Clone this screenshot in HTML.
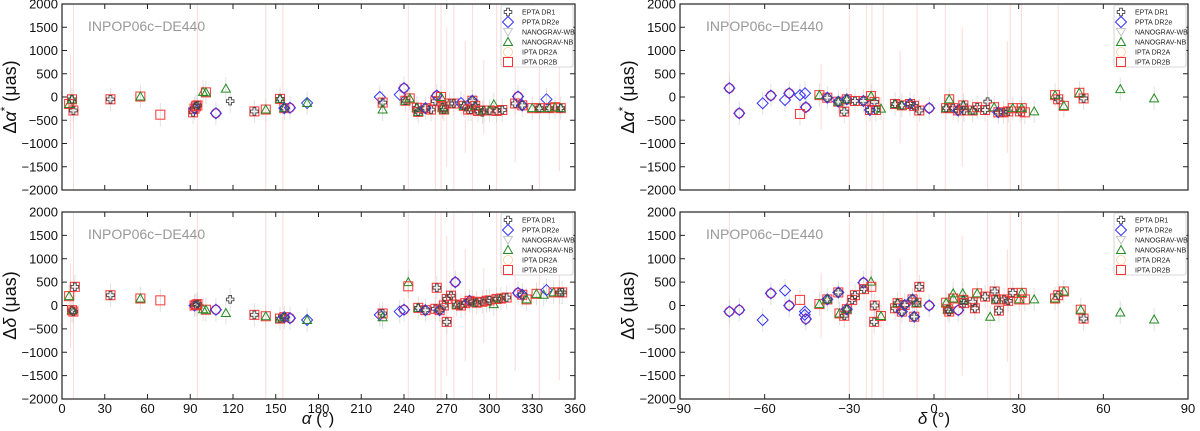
<!DOCTYPE html>
<html><head><meta charset="utf-8"><style>
body{margin:0;background:#fff;}
svg{display:block;font-family:"Liberation Sans","DejaVu Sans",sans-serif;}
</style></head><body>
<svg id="c" width="1200" height="431" viewBox="0 0 1200 431"></svg>
<script>
const alphaDRA = [[5,-150,"TS"],[7,-50,"CTS"],[8,-290,"CS"],[34,-50,"CS"],[55,10,"TS"],[69,-380,"S"],[92,-330,"CS"],[93,-250,"CDS"],[94,-200,"CS"],[95,-180,"CS"],[99,110,"T"],[101,100,"TS"],[108,-350,"DO"],[115,180,"T"],[118,-90,"C"],[135,-310,"CS"],[143,-270,"TS"],[153,-40,"CTS"],[156,-240,"CDTS"],[160,-230,"DO"],[172,-130,"TD"],[223,0,"D"],[225,-120,"CS"],[225,-270,"T"],[237,50,"D"],[240,190,"DO"],[241,-80,"CTS"],[244,-30,"TS"],[249,-230,"CTS"],[250,-320,"CTS"],[255,-240,"CDS"],[259,-270,"CS"],[262,-90,"CS"],[263,30,"DO"],[266,0,"TS"],[267,-220,"CTS"],[268,-270,"CTS"],[272,-140,"CS"],[275,-140,"CS"],[280,-130,"D"],[282,-190,"CTS"],[285,-270,"CS"],[287,-270,"CS"],[288,-80,"CDS"],[290,-190,"CTS"],[292,-300,"CS"],[295,-330,"C"],[296,-290,"CTS"],[300,-290,"CS"],[303,-160,"T"],[305,-300,"CS"],[309,-280,"CS"],[318,-140,"CS"],[320,10,"DO"],[323,-180,"CDS"],[330,-240,"TS"],[335,-240,"CTS"],[340,-50,"D"],[342,-240,"CTS"],[346,-220,"TS"],[350,-240,"CTS"]];
const alphaDDec = [[5,200,"TS"],[7,-100,"CTS"],[8,-130,"CS"],[9,400,"CS"],[34,220,"CS"],[55,150,"TS"],[69,110,"S"],[93,0,"CDS"],[94,10,"CS"],[95,30,"CS"],[99,-80,"T"],[101,-90,"TS"],[108,-90,"DO"],[115,-160,"T"],[118,130,"C"],[135,-200,"CS"],[143,-230,"TS"],[153,-280,"CTS"],[156,-250,"CDTS"],[160,-270,"DO"],[172,-310,"TD"],[223,-200,"D"],[225,-170,"CS"],[225,-250,"T"],[237,-130,"D"],[240,-90,"DO"],[243,500,"T"],[243,410,"S"],[250,-50,"CTS"],[255,-100,"CDS"],[262,-70,"CS"],[263,380,"CS"],[265,-100,"CDS"],[268,0,"CS"],[270,140,"CS"],[270,-350,"CS"],[273,210,"CS"],[276,500,"DO"],[277,20,"CTS"],[280,0,"CS"],[283,50,"CS"],[286,100,"CDS"],[288,80,"CS"],[291,60,"CTS"],[295,80,"CS"],[298,100,"CS"],[300,110,"CS"],[303,30,"T"],[305,140,"CS"],[308,150,"CTS"],[312,170,"CS"],[320,270,"DO"],[323,230,"CDS"],[326,130,"TS"],[333,250,"TS"],[338,230,"T"],[340,330,"D"],[345,280,"TS"],[349,280,"CTS"],[351,280,"CS"]];
const decDRA = [[-72.5,190,"DO"],[-69,-350,"DO"],[-60.7,-135,"D"],[-57.8,30,"DO"],[-52.8,-65,"D"],[-51.3,80,"DO"],[-47.5,40,"D"],[-45.7,80,"D"],[-45.4,-220,"DO"],[-47.5,-365,"S"],[-40.6,40,"TS"],[-37.8,-15,"CDS"],[-33.9,-100,"CDTS"],[-31.8,-315,"CS"],[-30.9,-50,"CDTS"],[-28,-85,"CS"],[-25,-85,"CDS"],[-22.3,20,"TS"],[-22.7,-280,"CDS"],[-21.1,-105,"CS"],[-20.6,-280,"CS"],[-18.8,-250,"T"],[-13.8,-150,"CTS"],[-11.4,-180,"CTS"],[-8.5,-150,"CDS"],[-7.1,-190,"CS"],[-5.2,-290,"CS"],[-1.7,-240,"DO"],[4.3,-240,"CTS"],[5.4,-50,"TS"],[6.8,-240,"CS"],[8.6,-290,"CDS"],[10.4,-180,"CTS"],[10.6,-290,"CS"],[13.7,-290,"CTS"],[15.3,-220,"CS"],[18.1,-280,"CS"],[19,-100,"C"],[21.3,-220,"TS"],[22.8,-330,"CDS"],[24.6,-330,"CS"],[26.3,-310,"CS"],[27.9,-240,"TS"],[30.5,-310,"CS"],[31.1,-240,"TS"],[32.2,-330,"S"],[35.5,-310,"T"],[42.9,40,"TS"],[44,-50,"CS"],[46,-190,"TS"],[51.5,90,"TS"],[53,-30,"CS"],[66,170,"T"],[78,-30,"T"]];
const decDDec = [[-72.5,-130,"DO"],[-69,-95,"DO"],[-60.7,-310,"D"],[-57.8,260,"DO"],[-52.8,320,"D"],[-51.3,0,"DO"],[-47.5,120,"S"],[-45.8,-200,"D"],[-45.7,-130,"D"],[-45.4,-290,"DO"],[-40.6,30,"TS"],[-37.8,130,"CDTS"],[-33.9,280,"CDS"],[-33.5,-170,"TS"],[-31.8,-220,"CS"],[-30.9,-80,"CDTS"],[-29,120,"CS"],[-28,220,"CS"],[-25,490,"DO"],[-24.8,350,"CS"],[-22.3,510,"T"],[-22.2,400,"S"],[-21,0,"CS"],[-21.2,-350,"CS"],[-18.8,-225,"TS"],[-13.8,-60,"CS"],[-12.9,50,"CTS"],[-11.4,-130,"CDS"],[-10.4,10,"CDS"],[-7.6,130,"CDS"],[-7,-240,"CDS"],[-6.2,60,"CTS"],[-5.2,400,"CS"],[-1.7,0,"DO"],[4.3,60,"TS"],[4.9,-80,"CTS"],[5.4,-130,"CS"],[6.8,260,"T"],[6.8,150,"TS"],[8.6,-100,"DO"],[10.2,260,"T"],[10.4,120,"CTS"],[10.6,50,"CS"],[13.7,80,"CS"],[14.5,-60,"CS"],[15.3,260,"TS"],[18.1,190,"CS"],[19.9,-240,"T"],[21.5,300,"CS"],[22,130,"CTS"],[23,-110,"CS"],[24.8,130,"CS"],[26.3,100,"CS"],[27.9,270,"CS"],[30.2,130,"TS"],[31.1,270,"TS"],[32.2,130,"S"],[35.5,130,"T"],[42.9,150,"TS"],[44,220,"CS"],[46,300,"TS"],[52,-90,"TS"],[53,-280,"CS"],[66,-150,"T"],[78,-300,"T"]];
const errAlpha = [[8,2000],[6,900],[95,2000],[143,2000],[155,2000],[243,2000],[262,2000],[266,2000],[270,1500],[275,2000],[283,1200],[288,2000],[296,800],[305,2000],[318,1400],[335,2000],[349,1600]];
const errDec = [[-72.5,2000],[-40,700],[-30,2000],[-24,2000],[-22,2000],[-18,2000],[-12,1000],[-6,2000],[4,2000],[10,1500],[19,2000],[27,2000],[31,2000],[44,2000],[26,1200]];
const yTicks = [-2000,-1500,-1000,-500,0,500,1000,1500,2000];
const xTicksA = [0,30,60,90,120,150,180,210,240,270,300,330,360];
const xTicksD = [-90,-60,-30,0,30,60,90];
const legendLabels = ["EPTA DR1","PPTA DR2e","NANOGRAV-WB","NANOGRAV-NB","IPTA DR2A","IPTA DR2B"];

const svg = document.getElementById('c');
const NS = 'http://www.w3.org/2000/svg';
function mk(tag, attrs, parent){const e=document.createElementNS(NS,tag);for(const k in attrs)e.setAttribute(k,attrs[k]);(parent||svg).appendChild(e);return e;}

function marker(g, m, px, py){
  if(m==='S'){const e=mk('rect',{x:px-4.5,y:py-4.5,width:9,height:9,fill:'none',stroke:'#ff3333','stroke-width':1},g);}
  if(m==='O'){const e=mk('circle',{cx:px,cy:py,r:4.5,fill:'none',stroke:'#ff3333','stroke-width':1.2},g);}
  if(m==='D'){const e=mk('polygon',{points:`${px},${py-5.5} ${px+5.5},${py} ${px},${py+5.5} ${px-5.5},${py}`,fill:'none',stroke:'#3333ff','stroke-width':1},g);}
  if(m==='T'){const e=mk('polygon',{points:`${px},${py-4.5} ${px+4.5},${py+3.5} ${px-4.5},${py+3.5}`,fill:'none',stroke:'#228b22','stroke-width':1},g);}
  if(m==='C'){const a=1.4,b=3.8;const e=mk('polygon',{points:`${px-a},${py-b} ${px+a},${py-b} ${px+a},${py-a} ${px+b},${py-a} ${px+b},${py+a} ${px+a},${py+a} ${px+a},${py+b} ${px-a},${py+b} ${px-a},${py+a} ${px-b},${py+a} ${px-b},${py-a} ${px-a},${py-a}`,fill:'none',stroke:'#444','stroke-width':0.9},g);}
}

function panel(opt){
  const {x0,x1,y0,y1,xmin,xmax,data,errs,xticks,showX,ylabel,name} = opt;
  const g = mk('g',{});
  
  
  const sx = v => x0 + (v-xmin)/(xmax-xmin)*(x1-x0);
  const sy = v => y1 - (v+2000)/4000*(y1-y0);
  const clip = 'cl'+name;
  const cp = mk('clipPath',{id:clip},g); mk('rect',{x:x0,y:y0,width:x1-x0,height:y1-y0},cp);
  const eg = mk('g',{'clip-path':`url(#${clip})`},g);
  
  
  errs.forEach(e=>{const l=mk('line',{x1:sx(e[0]),x2:sx(e[0]),y1:sy(-e[1]),y2:sy(e[1]),stroke:'#ff8080','stroke-opacity':0.3,'stroke-width':1},eg);});
  data.forEach(d=>{const l=mk('line',{x1:sx(d[0]),x2:sx(d[0]),y1:sy(d[1]-250),y2:sy(d[1]+250),stroke:'#ccc','stroke-opacity':0.6,'stroke-width':1},eg);});
  const pg = mk('g',{'clip-path':`url(#${clip})`},g);
  
  
  const order = ['O','S','D','T','C'];
  data.forEach(d=>{const px=sx(d[0]),py=sy(d[1]);order.forEach(m=>{if(d[2].includes(m))marker(pg,m,px,py);});});
  const fr=mk('rect',{x:x0,y:y0,width:x1-x0,height:y1-y0,fill:'none',stroke:'#222','stroke-width':1.2},g);
  
  yTicks.forEach(t=>{const y=sy(t);
    mk('line',{x1:x0,x2:x0+5,y1:y,y2:y,stroke:'#222'},g);mk('line',{x1:x1,x2:x1-5,y1:y,y2:y,stroke:'#222'},g);
    const tx=mk('text',{x:x0-4,y:y+4.5,'text-anchor':'end','font-size':13,fill:'#111'},g);tx.textContent=(t<0?'\u2212'+(-t):t);
    });
  xticks.forEach(t=>{const x=sx(t);
    mk('line',{x1:x,x2:x,y1:y1,y2:y1-5,stroke:'#222'},g);mk('line',{x1:x,x2:x,y1:y0,y2:y0+5,stroke:'#222'},g);
    if(showX){const tx=mk('text',{x:x,y:y1+14,'text-anchor':'middle','font-size':13,fill:'#111'},g);tx.textContent=(t<0?'\u2212'+(-t):t);
    }});
  const an=mk('text',{x:x0+26,y:y0+27,'font-size':14,fill:'#999'},g);an.textContent='INPOP06c\u2212DE440';
  
  const yl=mk('text',{x:0,y:0,'font-size':18,'text-anchor':'middle',fill:'#111',transform:`translate(${x0-46},${(y0+y1)/2}) rotate(-90)`},g);
  yl.innerHTML=ylabel;
  
  const lx=x1-74, ly=y0+1;
  const lg=mk('g',{},g);
  mk('rect',{x:lx,y:ly,width:72,height:62,fill:'#fff',stroke:'#ccc','stroke-width':0.8,rx:2},lg);
  const lm=['C','D','W','T','OL','S'];
  legendLabels.forEach((lab,i)=>{const yy=ly+7+i*10;
    const e=mk('g',{},lg);
    if(lm[i]==='W'){mk('polygon',{points:`${lx+7},${yy+4} ${lx+11.5},${yy-3.5} ${lx+2.5},${yy-3.5}`,fill:'none',stroke:'#bbb','stroke-width':0.8},e);}
    else if(lm[i]==='OL'){mk('circle',{cx:lx+7,cy:yy,r:4.5,fill:'none',stroke:'#ffcc99','stroke-width':0.8},e);}
    else marker(e,lm[i],lx+7,yy);
    const t=mk('text',{x:lx+21,y:yy+2.5,'font-size':7,fill:'#222'},e);t.textContent=lab;});
  return {sx,sy};
}
panel({name:'panel-alpha-dra',x0:62,x1:575,y0:4,y1:190,xmin:0,xmax:360,data:alphaDRA,errs:errAlpha,xticks:xTicksA,showX:false,ylabel:'\u0394<tspan font-style="italic">\u03b1</tspan><tspan dy="-7" font-size="12">*</tspan><tspan dy="7"> (\u03bcas)</tspan>'});
panel({name:'panel-alpha-ddec',x0:62,x1:575,y0:212,y1:399,xmin:0,xmax:360,data:alphaDDec,errs:errAlpha,xticks:xTicksA,showX:true,ylabel:'\u0394<tspan font-style="italic">\u03b4</tspan> (\u03bcas)'});
panel({name:'panel-dec-dra',x0:680,x1:1188,y0:4,y1:190,xmin:-90,xmax:90,data:decDRA,errs:errDec,xticks:xTicksD,showX:false,ylabel:'\u0394<tspan font-style="italic">\u03b1</tspan><tspan dy="-7" font-size="12">*</tspan><tspan dy="7"> (\u03bcas)</tspan>'});
panel({name:'panel-dec-ddec',x0:680,x1:1188,y0:212,y1:399,xmin:-90,xmax:90,data:decDDec,errs:errDec,xticks:xTicksD,showX:true,ylabel:'\u0394<tspan font-style="italic">\u03b4</tspan> (\u03bcas)'});
const xa=mk('text',{x:318,y:424,'text-anchor':'middle','font-size':17,fill:'#111'});xa.innerHTML='<tspan font-style="italic">\u03b1</tspan> (\u00b0)';

const xd=mk('text',{x:934,y:424,'text-anchor':'middle','font-size':17,fill:'#111'});xd.innerHTML='<tspan font-style="italic">\u03b4</tspan> (\u00b0)';

</script>
</body></html>
